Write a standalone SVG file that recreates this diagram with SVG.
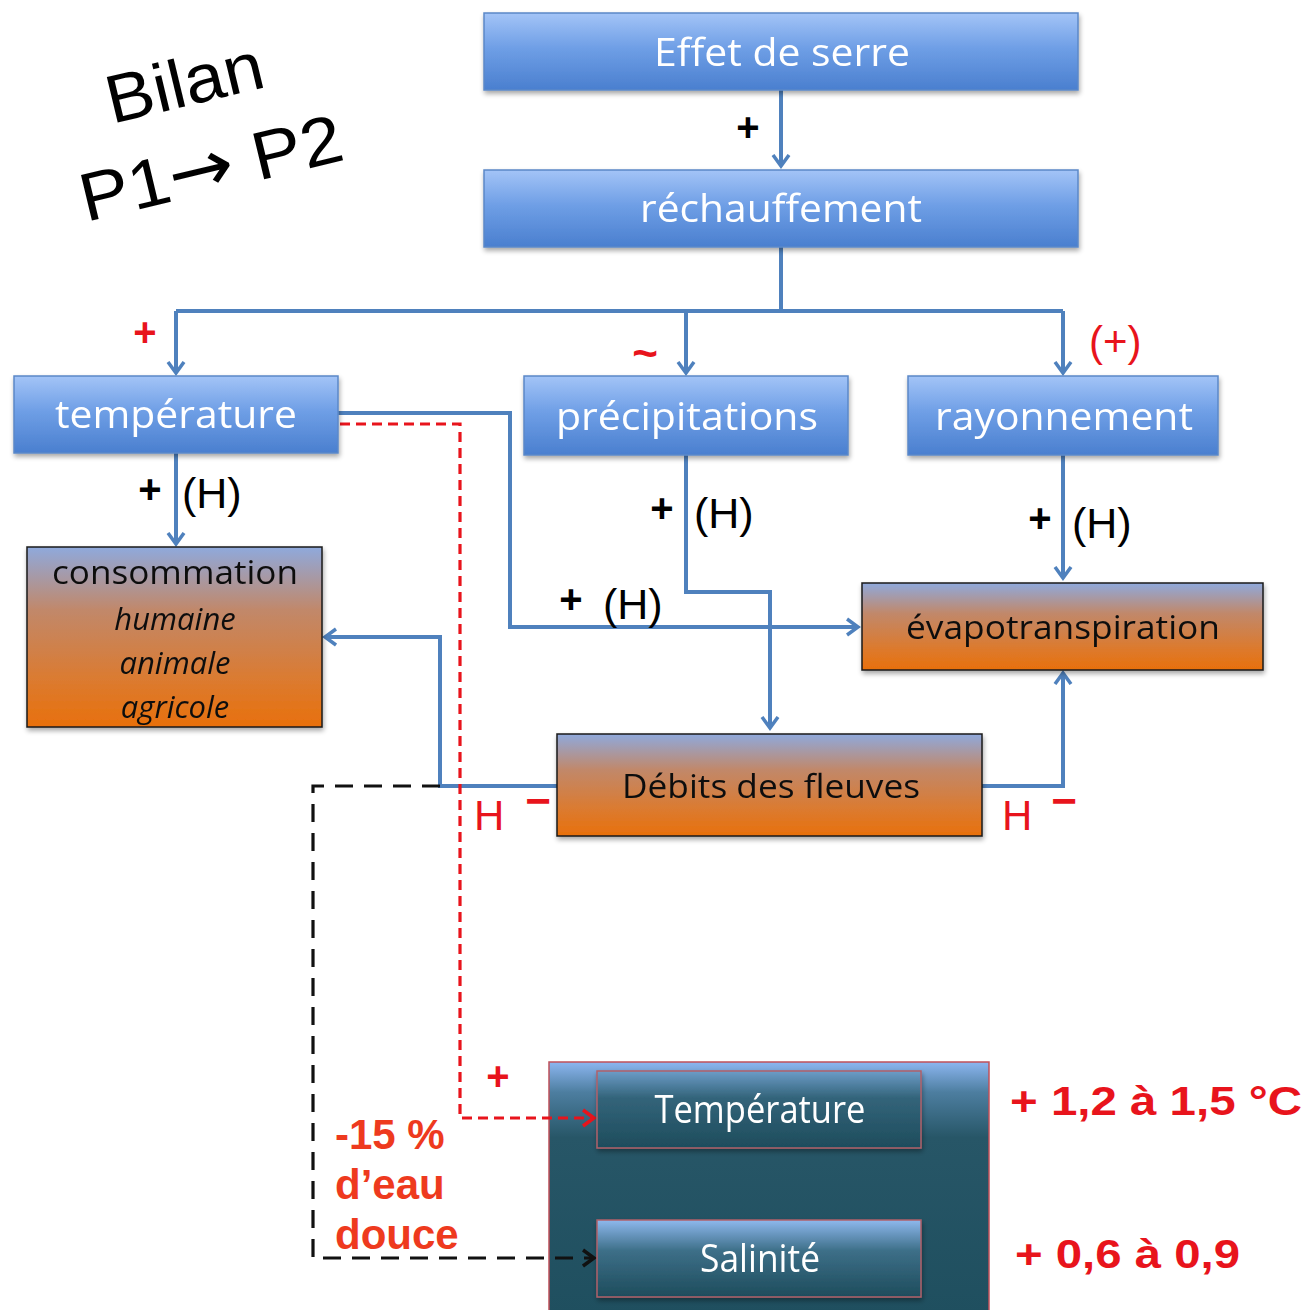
<svg xmlns="http://www.w3.org/2000/svg" width="1307" height="1310" viewBox="0 0 1307 1310">
  <defs>
    <linearGradient id="gBlue" x1="0" y1="0" x2="0" y2="1">
      <stop offset="0" stop-color="#a3c4f7"/>
      <stop offset="0.45" stop-color="#6f9fe6"/>
      <stop offset="1" stop-color="#4a7fcf"/>
    </linearGradient>
    <linearGradient id="gOrange" x1="0" y1="0" x2="0" y2="1">
      <stop offset="0" stop-color="#8fa9dc"/>
      <stop offset="0.35" stop-color="#c1886a"/>
      <stop offset="0.75" stop-color="#dc7a2e"/>
      <stop offset="1" stop-color="#e8700c"/>
    </linearGradient>
    <linearGradient id="gSea" x1="0" y1="0" x2="0" y2="1">
      <stop offset="0" stop-color="#8cb6f0"/>
      <stop offset="0.12" stop-color="#4d7ea0"/>
      <stop offset="0.3" stop-color="#275667"/>
      <stop offset="1" stop-color="#1f4f5f"/>
    </linearGradient>
    <linearGradient id="gInner" x1="0" y1="0" x2="0" y2="1">
      <stop offset="0" stop-color="#6d9cc8"/>
      <stop offset="0.35" stop-color="#33647a"/>
      <stop offset="1" stop-color="#1e4c5c"/>
    </linearGradient>
    <linearGradient id="gInner2" x1="0" y1="0" x2="0" y2="1">
      <stop offset="0" stop-color="#8eb8ee"/>
      <stop offset="0.4" stop-color="#3d6f88"/>
      <stop offset="1" stop-color="#1e4c5c"/>
    </linearGradient>
    <filter id="shadow" x="-5%" y="-10%" width="110%" height="130%">
      <feGaussianBlur in="SourceAlpha" stdDeviation="2.5"/>
      <feOffset dx="1" dy="3" result="b"/>
      <feComponentTransfer><feFuncA type="linear" slope="0.35"/></feComponentTransfer>
      <feMerge><feMergeNode/><feMergeNode in="SourceGraphic"/></feMerge>
    </filter>
    <marker id="aBlue" markerUnits="userSpaceOnUse" markerWidth="16" markerHeight="20" refX="12" refY="10" orient="auto">
      <path d="M1,2 L12,10 L1,18" fill="none" stroke="#4f81bd" stroke-width="3.5"/>
    </marker>
    <marker id="aRed" markerUnits="userSpaceOnUse" markerWidth="16" markerHeight="20" refX="12" refY="10" orient="auto">
      <path d="M1,2 L12,10 L1,18" fill="none" stroke="#e8141c" stroke-width="3.5"/>
    </marker>
    <marker id="aBlack" markerUnits="userSpaceOnUse" markerWidth="16" markerHeight="20" refX="12" refY="10" orient="auto">
      <path d="M1,2 L12,10 L1,18" fill="none" stroke="#111" stroke-width="3.5"/>
    </marker>
  </defs>
  <style>
    .bbox { fill: url(#gBlue); stroke: #5b88c8; stroke-width: 1.5; }
    .obox { fill: url(#gOrange); stroke: #1a1a1a; stroke-width: 1.5; }
    .wt { font-family: "Open Sans", "Liberation Sans", sans-serif; fill: #fff; text-anchor: middle; font-size: 38px; }
    .dt { font-family: "Open Sans", "Liberation Sans", sans-serif; fill: #111; text-anchor: middle; font-size: 32px; }
    .it { font-style: italic; font-size: 31px; }
    .lbl { font-family: "Liberation Sans", Arial, sans-serif; fill: #000; font-size: 43px; }
    .plus { font-weight: bold; font-size: 40px; }
    .red { font-family: "Liberation Sans", Arial, sans-serif; fill: #e8141c; }
    .conn { fill: none; stroke: #4f81bd; stroke-width: 4; }
    .dashR { fill: none; stroke: #e8141c; stroke-width: 3.2; stroke-dasharray: 10 6; }
    .dashK { fill: none; stroke: #111; stroke-width: 3.2; stroke-dasharray: 18 11; }
  </style>

  <rect width="1307" height="1310" fill="#fff"/>

  <!-- title -->
  <g id="title" font-family="Liberation Sans, Arial, sans-serif" font-size="68" fill="#000">
    <text transform="translate(112,124) rotate(-13.5)" textLength="160" lengthAdjust="spacingAndGlyphs">Bilan</text>
    <text transform="translate(86,222) rotate(-13.5)" textLength="268" lengthAdjust="spacingAndGlyphs">P1<tspan font-family="DejaVu Sans, sans-serif" font-size="72">→</tspan> P2</text>
  </g>

  <!-- ocean container sits beneath the connectors that reach into it -->
  <g id="ocean">
    <rect x="549" y="1062" width="440" height="252" fill="url(#gSea)" stroke="#c0505a" stroke-width="1.5"/>
  </g>

  <!-- connectors -->
  <g id="connectors">
    <path class="conn" d="M781,90 V166" marker-end="url(#aBlue)"/>
    <path class="conn" d="M781,247 V311"/>
    <path class="conn" d="M176,311 H1063"/>
    <path class="conn" d="M176,311 V373" marker-end="url(#aBlue)"/>
    <path class="conn" d="M686,311 V373" marker-end="url(#aBlue)"/>
    <path class="conn" d="M1063,311 V373" marker-end="url(#aBlue)"/>
    <path class="conn" d="M176,453 V544" marker-end="url(#aBlue)"/>
    <path class="conn" d="M338,413 H510 V627 H858" marker-end="url(#aBlue)"/>
    <path class="conn" d="M686,455 V592 H770 V728" marker-end="url(#aBlue)"/>
    <path class="conn" d="M1063,455 V578" marker-end="url(#aBlue)"/>
    <path class="conn" d="M557,786 H440 V637 H325" marker-end="url(#aBlue)"/>
    <path class="conn" d="M982,786 H1063 V673" marker-end="url(#aBlue)"/>
    <path class="dashR" d="M340,424 H460 V1118 H594" marker-end="url(#aRed)"/>
    <path class="dashK" d="M440,786 H313 V1258 H594" marker-end="url(#aBlack)"/>
  </g>

  <!-- connector labels -->
  <g id="labels">
    <text class="lbl plus" x="748" y="141" text-anchor="middle">+</text>
    <text class="red" x="145" y="346" font-size="40" font-weight="bold" text-anchor="middle">+</text>
    <text class="red" x="645" y="368" font-size="44" font-weight="bold" text-anchor="middle">~</text>
    <text class="red" x="1089" y="356" font-size="42">(+)</text>
    <text class="lbl plus" x="150" y="503" text-anchor="middle">+</text>
    <text class="lbl" x="182" y="508">(H)</text>
    <text class="lbl plus" x="662" y="522" text-anchor="middle">+</text>
    <text class="lbl" x="694" y="528">(H)</text>
    <text class="lbl plus" x="571" y="613" text-anchor="middle">+</text>
    <text class="lbl" x="603" y="619">(H)</text>
    <text class="lbl plus" x="1040" y="532" text-anchor="middle">+</text>
    <text class="lbl" x="1072" y="538">(H)</text>
    <text class="red" x="474" y="830" font-size="42">H</text>
    <text class="red" x="538" y="816" font-size="44" font-weight="bold" text-anchor="middle">−</text>
    <text class="red" x="1002" y="830" font-size="42">H</text>
    <text class="red" x="1064" y="816" font-size="44" font-weight="bold" text-anchor="middle">−</text>
    <text class="red" x="498" y="1090" font-size="40" font-weight="bold" text-anchor="middle">+</text>
    <g font-family="Liberation Sans, Arial, sans-serif" font-weight="bold" font-size="42" fill="#ee3a1e">
      <text x="335" y="1149">-15 %</text>
      <text x="335" y="1199">d’eau</text>
      <text x="335" y="1249">douce</text>
    </g>
    <g font-family="Liberation Sans, Arial, sans-serif" font-weight="bold" font-size="40" fill="#e8141c">
      <text x="1010" y="1115" textLength="292" lengthAdjust="spacingAndGlyphs">+ 1,2 à 1,5 °C</text>
      <text x="1015" y="1268" textLength="225" lengthAdjust="spacingAndGlyphs">+ 0,6 à 0,9</text>
    </g>
  </g>

  <!-- nodes -->
  <g id="effet-de-serre" filter="url(#shadow)">
    <rect class="bbox" x="484" y="13" width="594" height="77"/>
    <text class="wt" x="782" y="66" textLength="256" lengthAdjust="spacingAndGlyphs">Effet de serre</text>
  </g>
  <g id="rechauffement" filter="url(#shadow)">
    <rect class="bbox" x="484" y="170" width="594" height="77"/>
    <text class="wt" x="781" y="222" textLength="282" lengthAdjust="spacingAndGlyphs">réchauffement</text>
  </g>
  <g id="temperature" filter="url(#shadow)">
    <rect class="bbox" x="14" y="376" width="324" height="77"/>
    <text class="wt" x="176" y="428" textLength="242" lengthAdjust="spacingAndGlyphs">température</text>
  </g>
  <g id="precipitations" filter="url(#shadow)">
    <rect class="bbox" x="524" y="376" width="324" height="79"/>
    <text class="wt" x="687" y="430" textLength="262" lengthAdjust="spacingAndGlyphs">précipitations</text>
  </g>
  <g id="rayonnement" filter="url(#shadow)">
    <rect class="bbox" x="908" y="376" width="310" height="79"/>
    <text class="wt" x="1064" y="430" textLength="258" lengthAdjust="spacingAndGlyphs">rayonnement</text>
  </g>
  <g id="consommation" filter="url(#shadow)">
    <rect class="obox" x="27" y="547" width="295" height="180"/>
    <text class="dt" x="175" y="584" textLength="246" lengthAdjust="spacingAndGlyphs">consommation</text>
    <text class="dt it" x="175" y="630">humaine</text>
    <text class="dt it" x="175" y="674">animale</text>
    <text class="dt it" x="175" y="718">agricole</text>
  </g>
  <g id="evapotranspiration" filter="url(#shadow)">
    <rect class="obox" x="862" y="583" width="401" height="87"/>
    <text class="dt" x="1063" y="639" textLength="314" lengthAdjust="spacingAndGlyphs">évapotranspiration</text>
  </g>
  <g id="debits" filter="url(#shadow)">
    <rect class="obox" x="557" y="734" width="425" height="102" stroke="#c07070"/>
    <text class="dt" x="771" y="798" textLength="298" lengthAdjust="spacingAndGlyphs">Débits des fleuves</text>
  </g>
  <g id="ocean-temperature" filter="url(#shadow)">
    <rect x="597" y="1071" width="324" height="77" fill="url(#gInner)" stroke="#b0606a" stroke-width="1.5"/>
    <text class="wt" x="760" y="1123" font-size="33" textLength="211" lengthAdjust="spacingAndGlyphs">Température</text>
  </g>
  <g id="ocean-salinite" filter="url(#shadow)">
    <rect x="597" y="1220" width="324" height="77" fill="url(#gInner2)" stroke="#b0606a" stroke-width="1.5"/>
    <text class="wt" x="760" y="1272" font-size="33" textLength="120" lengthAdjust="spacingAndGlyphs">Salinité</text>
  </g>
</svg>
